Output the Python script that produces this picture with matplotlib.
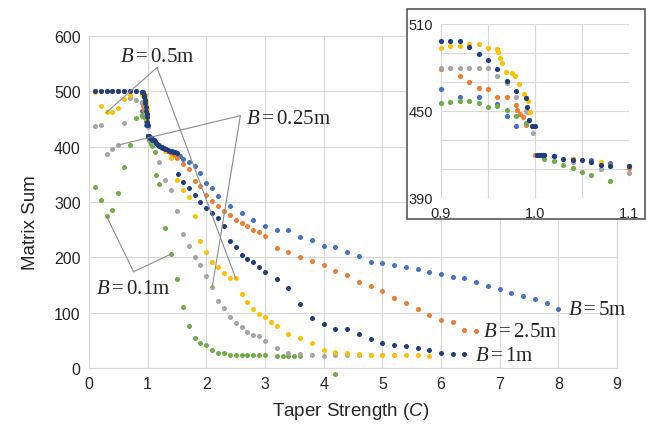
import matplotlib
matplotlib.use('Agg')
import matplotlib.pyplot as plt
from matplotlib.patches import Rectangle
import numpy as np

plt.rcParams['font.family'] = ['Liberation Sans', 'DejaVu Sans']
plt.rcParams['mathtext.fontset'] = 'custom'
plt.rcParams['mathtext.rm'] = 'Liberation Serif'
plt.rcParams['mathtext.it'] = 'Liberation Serif:italic'
plt.rcParams['mathtext.sf'] = 'Liberation Sans:italic'

# ---- data ----
x_green = [0.1, 0.2, 0.3, 0.4, 0.5, 0.6, 0.7, 0.8,
           0.90, 0.91, 0.92, 0.93, 0.94, 0.95, 0.96, 0.97, 0.98, 0.99,
           1.01, 1.02, 1.03, 1.04, 1.05, 1.06, 1.08, 1.12, 1.15, 1.2, 1.3, 1.4, 1.5,
           1.6, 1.7, 1.8, 1.9, 2.0, 2.1, 2.2, 2.3, 2.4, 2.5, 2.6, 2.7, 2.8, 2.9, 3.0,
           3.2, 3.3, 3.4, 3.5, 3.6, 4.2]
y_green = [327, 303, 274, 286, 316, 364, 403, 452,
           455.6, 456.5, 457, 457, 455.6, 452.7, 453.3, 450.8, 446.5, 442,
           417, 415.5, 412.7, 410.7, 407.7, 405.6, 401.7, 390, 349, 333, 253, 206, 161,
           111, 76, 55, 46, 42, 33, 28, 27, 24, 24, 24, 24, 24, 24, 24,
           22, 22, 22, 22, 22, -10]

x_gray = [0.1, 0.2, 0.3, 0.4, 0.5, 0.6, 0.7, 0.8,
          0.90, 0.91, 0.92, 0.93, 0.94, 0.95, 0.96, 0.97, 0.98, 0.99, 0.993, 0.998,
          1.01, 1.04, 1.07, 1.1, 1.2, 1.3, 1.4, 1.5, 1.6, 1.7, 1.8, 1.9, 2.0, 2.1,
          2.2, 2.3, 2.4, 2.5, 2.6, 2.7, 2.8, 2.9, 3.0, 3.2, 3.4, 3.6, 3.8, 4.0,
          4.2, 4.4, 4.6, 4.8, 5.0, 5.2]
y_gray = [437, 439, 387, 395, 403, 442, 488, 485,
          480, 480, 480, 480, 480, 480, 474, 469, 460, 450, 449, 435,
          420, 415, 410, 407, 373, 340, 322, 284, 242, 220, 201, 186, 167, 146,
          121, 108, 92, 81, 74, 64.5, 60, 57, 49, 36, 28, 25, 23.5, 22,
          23.5, 24, 23.5, 23.5, 23.5, 23.5]

x_yellow = [0.1, 0.2, 0.3, 0.4, 0.5, 0.6, 0.7, 0.8,
            0.90, 0.91, 0.92, 0.93, 0.94, 0.95, 0.96, 0.961, 0.963, 0.965, 0.969,
            0.975, 0.979, 0.983, 0.988, 0.993, 0.995,
            1.01, 1.04, 1.07, 1.1, 1.2, 1.3, 1.4, 1.5, 1.6, 1.7, 1.8, 1.9, 2.0,
            2.1, 2.2, 2.3, 2.4, 2.5, 2.6, 2.7, 2.8, 2.9, 3.0, 3.1, 3.2, 3.4, 3.6,
            3.8, 4.0, 4.2, 4.4, 4.6, 4.8, 5.0, 5.2, 5.4, 5.6, 5.8]
y_yellow = [498, 473, 462, 462, 470, 486, 494, 500,
            493.5, 494.6, 495, 496, 496, 493.5, 493, 490.5, 486.4, 483, 477,
            476, 474.4, 468.7, 462, 457, 449,
            420, 417, 415, 412, 402, 392, 380, 339, 322, 309, 274, 229, 210,
            192, 183, 172, 162, 162, 133, 120, 107, 98, 93, 84, 76.5, 61, 54,
            45, 33, 29, 27, 25, 24, 24, 24, 23, 23, 22]

x_navy = [0.1, 0.2, 0.3, 0.4, 0.5, 0.6, 0.7, 0.8,
          0.90, 0.91, 0.92, 0.93, 0.94, 0.95, 0.96, 0.97, 0.98, 0.99, 0.992,
          0.994, 0.997, 1.0,
          1.002, 1.004, 1.006, 1.008, 1.01, 1.02, 1.03, 1.04, 1.05, 1.06, 1.07,
          1.08, 1.1, 1.12, 1.14, 1.16, 1.18, 1.2, 1.22, 1.24, 1.26, 1.28, 1.3,
          1.32, 1.35, 1.38, 1.41, 1.44, 1.47, 1.5,
          1.52, 1.6, 1.7, 1.8, 1.9, 2.0, 2.1, 2.2, 2.3, 2.4, 2.5, 2.6, 2.7, 2.8,
          2.9, 3.0, 3.2, 3.4, 3.6, 3.8, 4.0, 4.2, 4.4, 4.6, 4.8, 5.0, 5.2, 5.4,
          5.6, 5.8, 6.0, 6.2, 6.4]
y_navy = [500, 500, 500, 500, 500, 500, 500, 500,
          498.5, 498.5, 498.5, 494, 489, 485, 479, 471, 464, 459, 453,
          444, 440, 440,
          420, 420, 420, 420, 420, 419, 417, 416, 416, 415, 413,
          412, 412, 410, 407, 405, 403, 401, 400, 399, 398, 397, 396,
          395, 394, 393, 392, 391, 390, 389,
          351, 337, 325, 312, 300, 289, 280, 271, 257, 229, 218, 204, 197, 191,
          183, 173, 161, 144, 116, 90, 80, 71, 70, 61.5, 52, 45, 41.5, 39,
          37, 32.5, 28, 25, 25]

x_orange = [0.1, 0.2, 0.3, 0.4, 0.5, 0.6, 0.7, 0.8,
            0.90, 0.92, 0.93, 0.94, 0.95, 0.96, 0.97, 0.98, 0.981, 0.984, 0.987,
            0.99, 1.0, 1.02, 1.04, 1.06, 1.08, 1.1, 1.15, 1.2, 1.25, 1.3, 1.35,
            1.4, 1.45, 1.5, 1.6, 1.7, 1.8, 1.9, 2.0, 2.1, 2.2, 2.3, 2.4, 2.5,
            2.6, 2.7, 2.8, 2.9, 3.0, 3.2, 3.4, 3.6, 3.8, 4.0, 4.2, 4.4, 4.6, 4.8,
            5.0, 5.2, 5.4, 5.6, 5.8, 6.0, 6.2, 6.4, 6.6]
y_orange = [500, 500, 500, 500, 500, 500, 500, 500,
            479, 474, 470, 466, 465, 460, 460, 454, 451, 448, 446,
            440.5, 420, 419, 417, 415, 413, 411, 406, 402, 398, 395, 392,
            389, 385, 380, 368, 359, 338, 329, 312, 302, 293.5, 284, 276, 268,
            262, 256, 249, 245, 238.5, 216, 209, 200, 193, 186, 175.5, 167.5, 156, 148,
            139, 127, 117.5, 107, 96, 87, 83, 69, 66]

x_blue = [0.1, 0.2, 0.3, 0.4, 0.5, 0.6, 0.7, 0.8,
          0.90, 0.92, 0.94, 0.96, 0.97, 0.98,
          1.02, 1.04, 1.06, 1.08, 1.1, 1.15, 1.2, 1.25, 1.3, 1.35, 1.4, 1.45,
          1.5, 1.55, 1.6, 1.7, 1.8, 1.9, 2.0, 2.1, 2.2, 2.4, 2.6, 2.8, 3.0, 3.2,
          3.4, 3.6, 3.8, 4.0, 4.2, 4.4, 4.6, 4.8, 5.0, 5.2, 5.4, 5.6, 5.8, 6.0,
          6.2, 6.4, 6.6, 6.8, 7.0, 7.2, 7.4, 7.6, 7.8, 8.0]
y_blue = [500, 500, 500, 500, 500, 500, 500, 500,
          465, 459.5, 459.5, 454.5, 446.5, 440,
          419, 417, 416, 414, 412, 407, 403, 399, 396, 393, 391, 388,
          386, 384, 378, 372, 365, 353, 334, 326, 310, 293, 280, 268, 257, 250,
          249, 237, 232, 220, 218, 210, 202, 192, 189, 186, 182, 179, 174, 169,
          165, 162, 156, 148, 142, 135, 130, 124, 117, 107]

# (x, y, colour, zorder)
series = [
    (x_blue, y_blue, '#4472C4', 3),
    (x_orange, y_orange, '#ED7D31', 4),
    (x_green, y_green, '#70AD47', 5),
    (x_gray, y_gray, '#A5A5A5', 6),
    (x_yellow, y_yellow, '#FFC000', 7),
    (x_navy, y_navy, '#203F7A', 8),
]

grid_c = '#D9D9D9'
txt_c = '#262626'
line_c = '#8C8C8C'


def near(xs, ys, x0):
    i = int(np.argmin(np.abs(np.asarray(xs) - x0)))
    return xs[i], ys[i]


fig = plt.figure(figsize=(6.54, 4.31), dpi=100)
ax = fig.add_axes([89 / 654, 1 - 369 / 431, 528 / 654, 332 / 431])

for xs, ys, c, z in series:
    ax.scatter(xs, ys, s=13, color=c, linewidths=0, zorder=z, clip_on=False)

ax.set_xlim(0, 9)
ax.set_ylim(0, 600)
ax.set_xticks(range(0, 10))
ax.set_yticks(range(0, 601, 100))
ax.grid(True, color=grid_c, linewidth=0.8)
ax.set_axisbelow(True)
for sp in ax.spines.values():
    sp.set_color(grid_c)
    sp.set_linewidth(0.8)
ax.tick_params(length=0, labelsize=11.5, colors=txt_c, pad=6)
ax.set_ylabel('Matrix Sum', fontsize=13.5, color=txt_c)
ax.yaxis.set_label_coords(-0.095, 0.44)
ax.set_xlabel(r'Taper Strength ($\mathsf{C}$)', fontsize=13.5, color=txt_c)
ax.xaxis.set_label_coords(0.496, -0.095)

# ---- labels with connector lines ----
lab_fs = 15
# B = 0.5m
vx, vy = 1.16, 543
ax.text(1.16, 564, r'$B = 0.5\mathrm{m}$', fontsize=lab_fs, ha='center', va='center',
        color=txt_c, zorder=10)
for tx, ty in [near(x_yellow, y_yellow, 0.3), near(x_yellow, y_yellow, 2.5)]:
    ax.plot([vx, tx], [vy, ty], color=line_c, lw=0.8, zorder=9)

# B = 0.25m
vx, vy = 2.58, 456
ax.text(2.67, 452, r'$B = 0.25\mathrm{m}$', fontsize=lab_fs, ha='left', va='center',
        color=txt_c, zorder=10)
for tx, ty in [near(x_gray, y_gray, 0.5), near(x_gray, y_gray, 2.1)]:
    ax.plot([vx, tx], [vy, ty], color=line_c, lw=0.8, zorder=9)

# B = 0.1m
vx, vy = 0.76, 174
ax.text(0.76, 146, r'$B = 0.1\mathrm{m}$', fontsize=lab_fs, ha='center', va='center',
        color=txt_c, zorder=10)
for tx, ty in [near(x_green, y_green, 0.3), near(x_green, y_green, 1.4)]:
    ax.plot([vx, tx], [vy, ty], color=line_c, lw=0.8, zorder=9)

ax.text(8.16, 108, r'$B = 5\mathrm{m}$', fontsize=lab_fs, ha='left', va='center', color=txt_c)
ax.text(6.71, 68, r'$B = 2.5\mathrm{m}$', fontsize=lab_fs, ha='left', va='center', color=txt_c)
ax.text(6.58, 25, r'$B = 1\mathrm{m}$', fontsize=lab_fs, ha='left', va='center', color=txt_c)

# ---- inset ----
frame = Rectangle((407 / 654, 1 - 220 / 431), 238 / 654, 210 / 431,
                  transform=fig.transFigure, facecolor='white',
                  edgecolor='#595959', linewidth=1.2, zorder=1)
fig.add_artist(frame)

axin = fig.add_axes([441 / 654, 1 - 199 / 431, 188 / 654, 174 / 431])
axin.set_zorder(2)
for xs, ys, c, z in series:
    xa, ya = np.asarray(xs), np.asarray(ys)
    m = (xa >= 0.9) & (xa <= 1.1) & (ya >= 390) & (ya <= 510)
    axin.scatter(xa[m], ya[m], s=14, color=c, linewidths=0, zorder=z, clip_on=False)
axin.set_xlim(0.9, 1.1)
axin.set_ylim(390, 510)
axin.set_xticks([0.9, 0.95, 1.0, 1.05, 1.1])
axin.set_xticklabels(['0.9', '', '1.0', '', '1.1'])
axin.set_yticks(range(390, 511, 20))
axin.set_yticklabels(['390', '', '', '450', '', '', '510'])
axin.grid(True, color=grid_c, linewidth=0.8)
axin.set_axisbelow(True)
for sp in axin.spines.values():
    sp.set_visible(False)
axin.tick_params(length=0, labelsize=10.5, colors=txt_c, pad=6)

fig.savefig('out.png', dpi=100)
